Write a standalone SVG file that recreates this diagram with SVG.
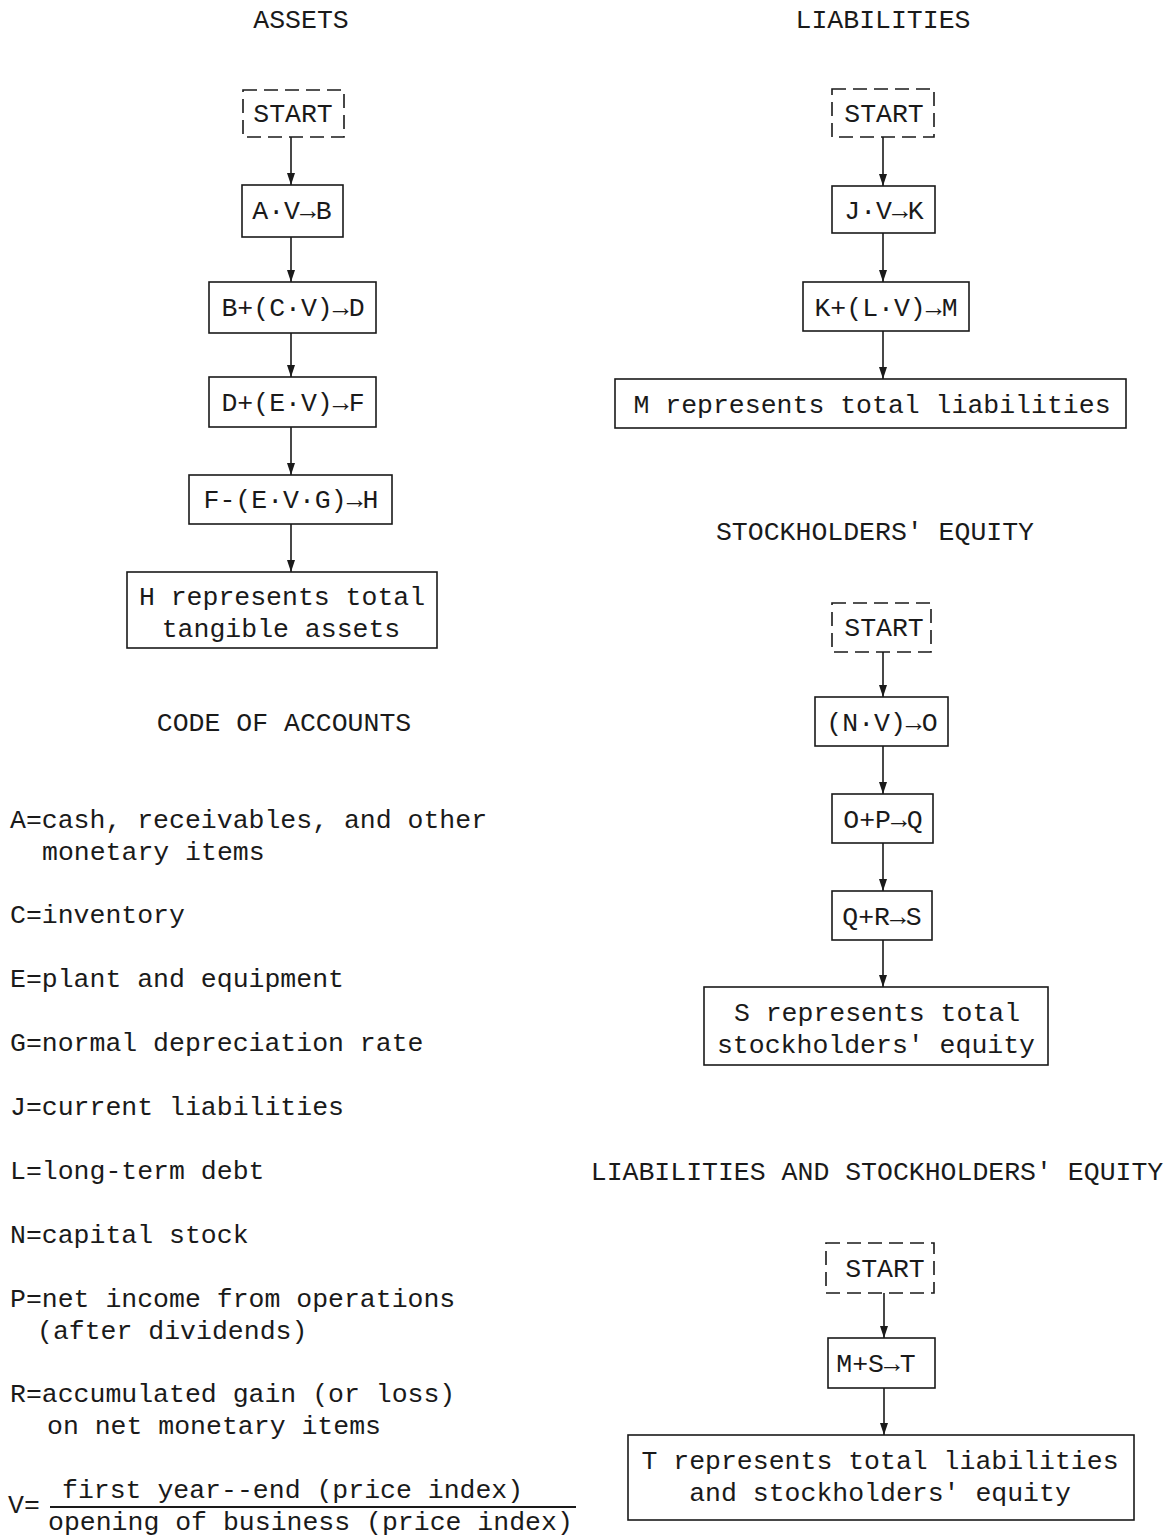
<svg xmlns="http://www.w3.org/2000/svg" width="1173" height="1536" viewBox="0 0 1173 1536">
<defs>
<marker id="arr" markerUnits="userSpaceOnUse" markerWidth="8" markerHeight="12" refX="4" refY="12" orient="0">
<path d="M0,0 L8,0 L4,12 z" fill="#1a1a1a"/>
</marker>
<style>
text{font-family:"Liberation Mono","Courier New",monospace;font-size:26.5px;fill:#1a1a1a}
.c{text-anchor:middle}
.box{fill:#fff;stroke:#1a1a1a;stroke-width:1.6}
.dash{fill:#fff;stroke:#1a1a1a;stroke-width:1.6;stroke-dasharray:14 7}
.con line{stroke:#1a1a1a;stroke-width:1.6;marker-end:url(#arr)}
</style>
</defs>
<rect width="1173" height="1536" fill="#fff"/>

<g id="titles">
<text class="c" x="301" y="28">ASSETS</text>
<text class="c" x="883" y="28">LIABILITIES</text>
<text class="c" x="875" y="540">STOCKHOLDERS' EQUITY</text>
<text class="c" x="877" y="1180">LIABILITIES AND STOCKHOLDERS' EQUITY</text>
<text class="c" x="284" y="731">CODE OF ACCOUNTS</text>
</g>

<g class="con" id="connectors">
<line x1="291" y1="137" x2="291" y2="185"/>
<line x1="291" y1="237" x2="291" y2="282"/>
<line x1="291" y1="333" x2="291" y2="377"/>
<line x1="291" y1="427" x2="291" y2="475"/>
<line x1="291" y1="524" x2="291" y2="572"/>
<line x1="883" y1="137" x2="883" y2="186"/>
<line x1="883" y1="233" x2="883" y2="282"/>
<line x1="883" y1="331" x2="883" y2="379"/>
<line x1="883" y1="652" x2="883" y2="697"/>
<line x1="883" y1="746" x2="883" y2="794"/>
<line x1="883" y1="843" x2="883" y2="891"/>
<line x1="883" y1="940" x2="883" y2="987"/>
<line x1="884" y1="1293" x2="884" y2="1338"/>
<line x1="884" y1="1388" x2="884" y2="1435"/>
</g>

<g id="a_start"><rect class="dash" x="243" y="90" width="101" height="47"/><text class="c" x="293" y="122">START</text></g>
<g id="a_n1"><rect class="box" x="242" y="185" width="101" height="52"/><text class="c" x="292" y="219">A·V→B</text></g>
<g id="a_n2"><rect class="box" x="209" y="282" width="167" height="51"/><text class="c" x="293" y="316">B+(C·V)→D</text></g>
<g id="a_n3"><rect class="box" x="209" y="377" width="167" height="50"/><text class="c" x="293" y="411">D+(E·V)→F</text></g>
<g id="a_n4"><rect class="box" x="189" y="475" width="203" height="49"/><text class="c" x="291" y="508">F-(E·V·G)→H</text></g>
<g id="a_end"><rect class="box" x="127" y="572" width="310" height="76"/><text class="c" x="282" y="605">H represents total</text><text class="c" x="281" y="637">tangible assets</text></g>

<g id="l_start"><rect class="dash" x="832" y="89" width="102" height="48"/><text class="c" x="884" y="122">START</text></g>
<g id="l_n1"><rect class="box" x="832" y="186" width="103" height="47"/><text class="c" x="884" y="219">J·V→K</text></g>
<g id="l_n2"><rect class="box" x="803" y="282" width="166" height="49"/><text class="c" x="886" y="316">K+(L·V)→M</text></g>
<g id="l_end"><rect class="box" x="615" y="379" width="511" height="49"/><text class="c" x="872" y="413">M represents total liabilities</text></g>

<g id="s_start"><rect class="dash" x="832" y="603" width="99" height="49"/><text class="c" x="884" y="636">START</text></g>
<g id="s_n1"><rect class="box" x="815" y="697" width="133" height="49"/><text class="c" x="882" y="731">(N·V)→O</text></g>
<g id="s_n2"><rect class="box" x="832" y="794" width="101" height="49"/><text class="c" x="883" y="828">O+P→Q</text></g>
<g id="s_n3"><rect class="box" x="832" y="891" width="100" height="49"/><text class="c" x="882" y="925">Q+R→S</text></g>
<g id="s_end"><rect class="box" x="704" y="987" width="344" height="78"/><text class="c" x="877" y="1021">S represents total</text><text class="c" x="876" y="1053">stockholders' equity</text></g>

<g id="t_start"><rect class="dash" x="826" y="1243" width="108" height="50"/><text class="c" x="885" y="1277">START</text></g>
<g id="t_n1"><rect class="box" x="828" y="1338" width="107" height="50"/><text class="c" x="876" y="1372">M+S→T</text></g>
<g id="t_end"><rect class="box" x="628" y="1435" width="506" height="85"/><text class="c" x="880" y="1469">T represents total liabilities</text><text class="c" x="880" y="1501">and stockholders' equity</text></g>

<g id="codes">
<text x="10" y="828">A=cash, receivables, and other</text>
<text x="42" y="860">monetary items</text>
<text x="10" y="923">C=inventory</text>
<text x="10" y="987">E=plant and equipment</text>
<text x="10" y="1051">G=normal depreciation rate</text>
<text x="10" y="1115">J=current liabilities</text>
<text x="10" y="1179">L=long-term debt</text>
<text x="10" y="1243">N=capital stock</text>
<text x="10" y="1307">P=net income from operations</text>
<text x="37" y="1339">(after dividends)</text>
<text x="10" y="1402">R=accumulated gain (or loss)</text>
<text x="47" y="1434">on net monetary items</text>
<text x="8" y="1513">V=</text>
<text x="62" y="1498">first year--end (price index)</text>
<line x1="50" y1="1507" x2="576" y2="1507" stroke="#1a1a1a" stroke-width="2"/>
<text x="48" y="1530">opening of business (price index)</text>
</g>
</svg>
